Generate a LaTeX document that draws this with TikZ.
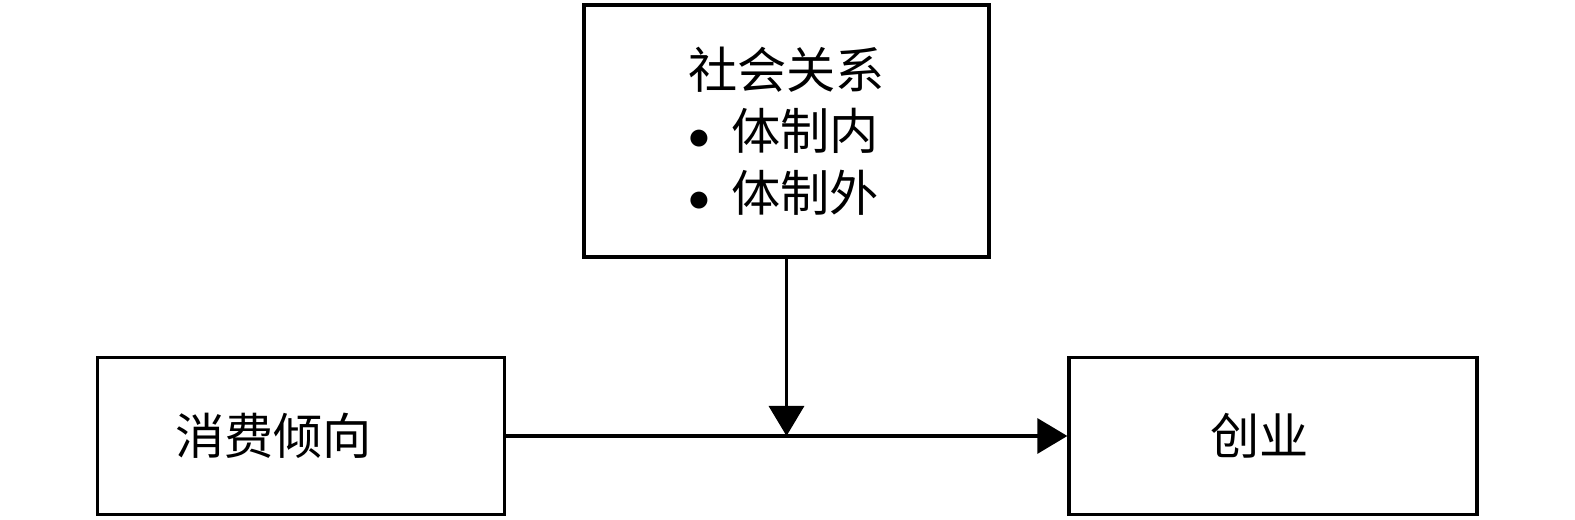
\documentclass[tikz,border=0pt]{standalone}
\usepackage{fontspec}
\setmainfont{Noto Sans CJK SC}
\usetikzlibrary{arrows.meta,positioning,calc}
\tikzset{
  factor/.style={draw=black,line width=1.9pt,inner sep=0pt,align=center,font=\fontsize{28}{35}\selectfont},
  flow/.style={-{Triangle[length=0.6cm,width=0.7cm]},line width=1.9pt},
}
\newcommand{\bul}{\makebox[0.88em][l]{$\bullet$}}

\begin{document}
\begin{tikzpicture}
    \useasboundingbox (0,0) rectangle (31.5,10.4);
    \node[factor,minimum width=8.1cm,minimum height=5.04cm,align=left] (rel) at (15.73,7.78) {社会关系\\\bul 体制内\\\bul 体制外};
    \node[factor,minimum width=8.15cm,minimum height=3.15cm] (cons) at (6.02,1.68) {消费倾向\hspace{1.1cm}};
    \node[factor,minimum width=8.16cm,minimum height=3.15cm] (ent) at (25.46,1.68) {创业\hspace{0.55cm}};
    \coordinate (mod) at (rel.south |- cons.east);
    \draw[flow] (cons.east)--(ent.west);
    \draw[flow] (rel.south)--(mod);
  \end{tikzpicture}
\end{document}
